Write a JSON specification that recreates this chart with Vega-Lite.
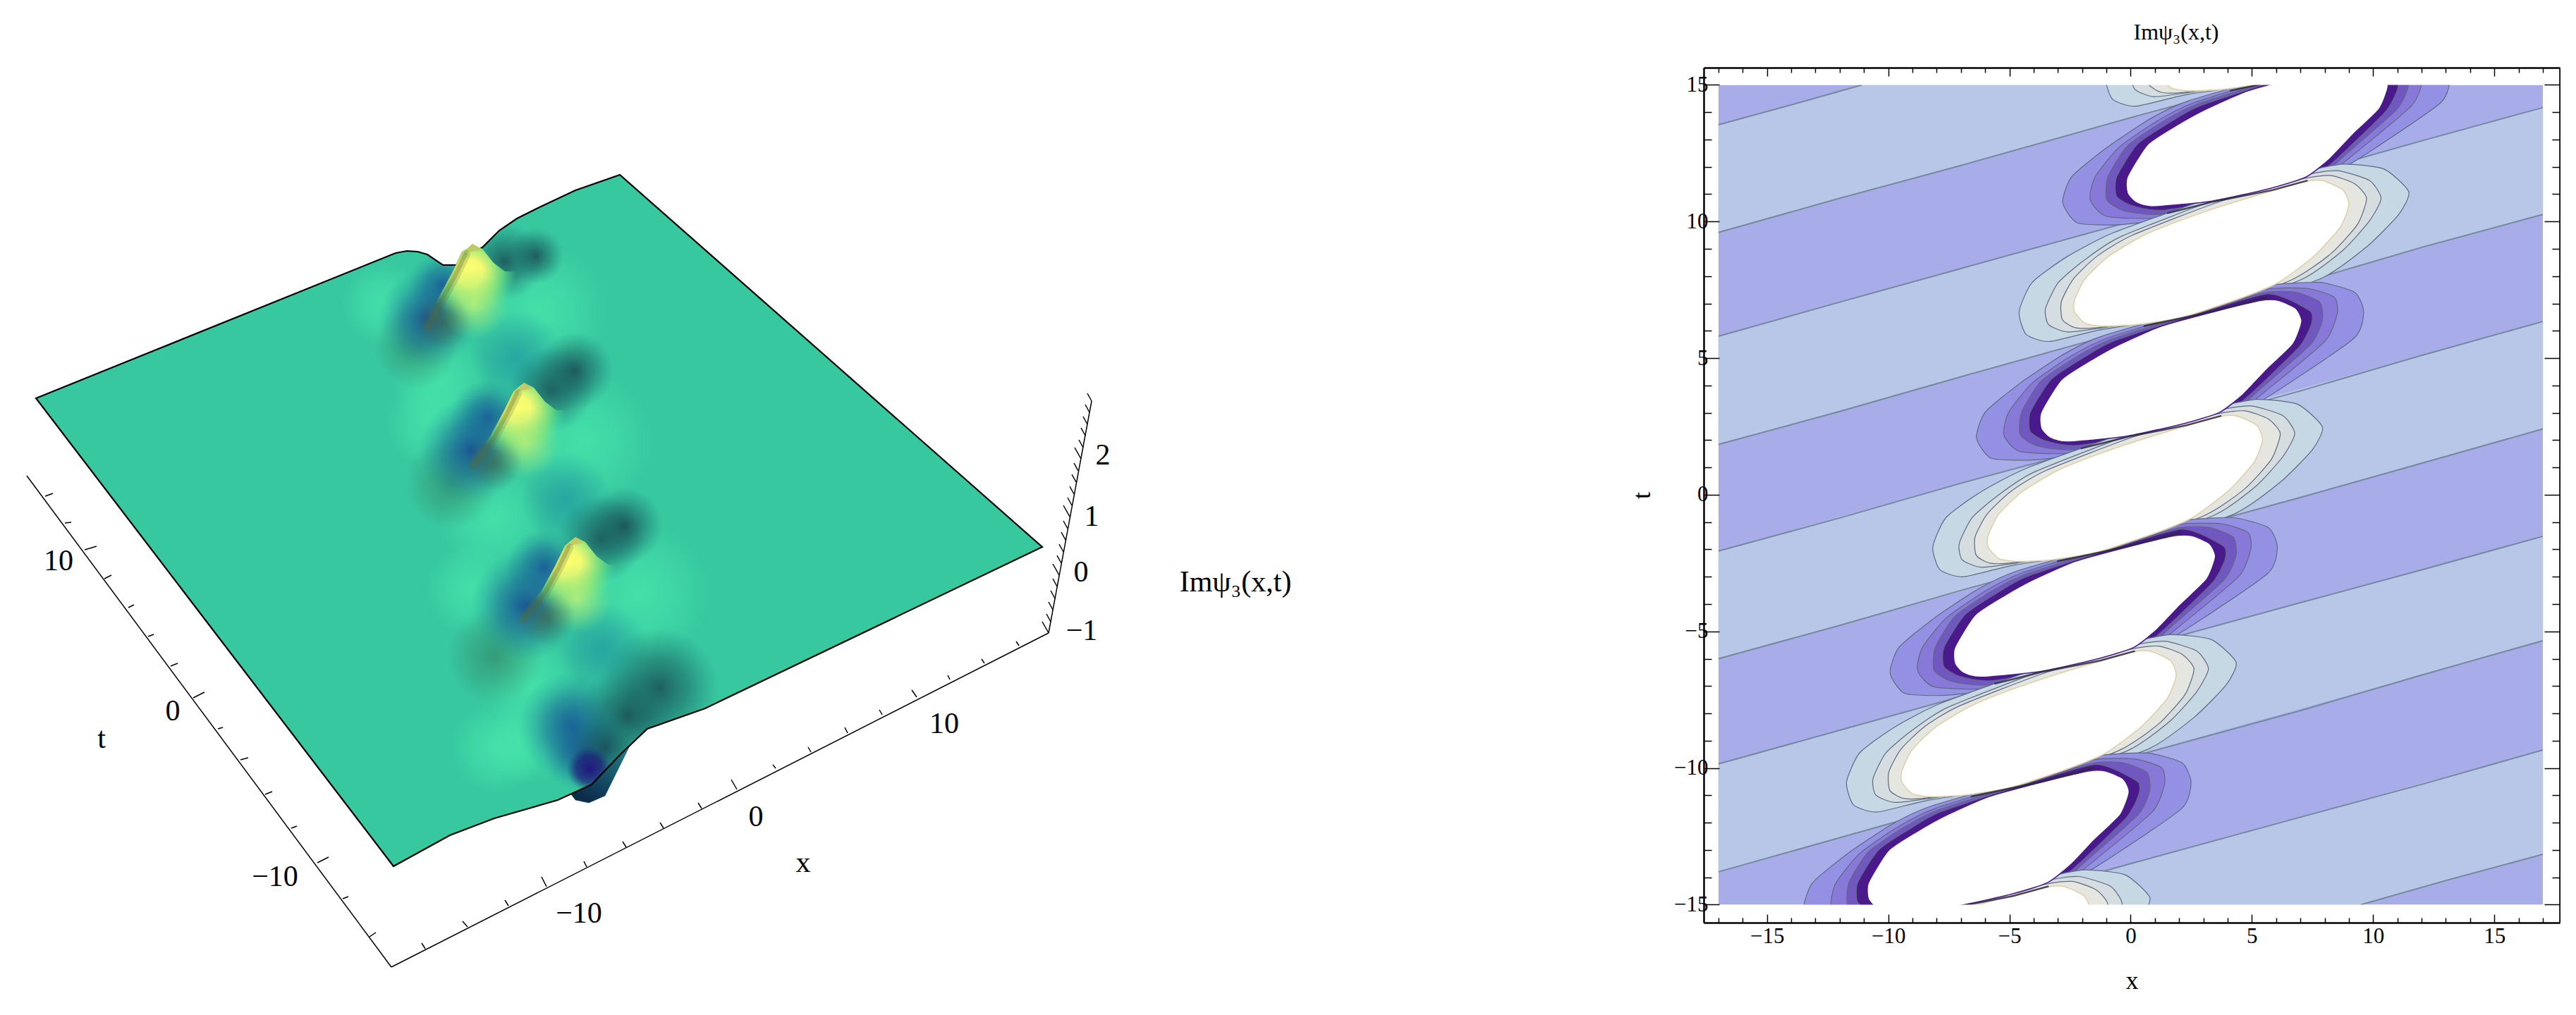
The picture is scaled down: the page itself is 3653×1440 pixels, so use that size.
{"$schema":"https://vega.github.io/schema/vega-lite/v6.json","background":"white","padding":{"left":0,"top":30,"right":0,"bottom":0},"bounds":"flush","spacing":0,"config":{"view":{"stroke":null}},
"datasets":{
"surface":[{"u":51,"v":564},{"u":561,"v":358},{"u":577,"v":355},{"u":592,"v":356},{"u":606,"v":360},{"u":628,"v":375},{"u":647,"v":375},{"u":665,"v":360},{"u":684,"v":350},{"u":708,"v":326},{"u":733,"v":309},{"u":765,"v":293},{"u":816,"v":269},{"u":879,"v":247},{"u":1478,"v":775},{"u":1000,"v":1004},{"u":918,"v":1033},{"u":880,"v":1069},{"u":839,"v":1112},{"u":791,"v":1134},{"u":701,"v":1160},{"u":638,"v":1184},{"u":558,"v":1228}],
"outside":[{"k":1,"u":558,"v":1228},{"k":1,"u":638,"v":1184},{"k":1,"u":701,"v":1160},{"k":1,"u":791,"v":1134},{"k":1,"u":839,"v":1112},{"k":1,"u":880,"v":1069},{"k":1,"u":918,"v":1033},{"k":1,"u":1000,"v":1004},{"k":1,"u":1478,"v":775},{"k":1,"u":1478,"v":1300},{"k":1,"u":558,"v":1300},
{"k":2,"u":440,"v":407},{"k":2,"u":561,"v":358},{"k":2,"u":577,"v":355},{"k":2,"u":592,"v":356},{"k":2,"u":606,"v":360},{"k":2,"u":628,"v":375},{"k":2,"u":647,"v":375},{"k":2,"u":665,"v":360},{"k":2,"u":684,"v":350},{"k":2,"u":708,"v":326},{"k":2,"u":733,"v":309},{"k":2,"u":765,"v":293},{"k":2,"u":816,"v":269},{"k":2,"u":879,"v":247},{"k":2,"u":879,"v":200},{"k":2,"u":440,"v":200}],
"blobs":[
{"b":"glow","u":670,"u2":860,"v":345,"v2":535},{"b":"glow","u":725,"u2":925,"v":525,"v2":725},{"b":"glow","u":805,"u2":1005,"v":740,"v2":940},{"b":"glow","u":555,"u2":695,"v":470,"v2":610},{"b":"glow","u":622,"u2":778,"v":657,"v2":813},{"b":"glow","u":682,"u2":822,"v":900,"v2":1040},{"b":"glow","u":688,"u2":808,"v":990,"v2":1110},{"b":"glow","u":485,"u2":605,"v":370,"v2":490},{"b":"glow","u":548,"u2":672,"v":538,"v2":662},{"b":"glow","u":605,"u2":735,"v":770,"v2":900},{"b":"glow","u":640,"u2":770,"v":995,"v2":1125},
{"b":"teal","u":668,"u2":798,"v":439,"v2":569},{"b":"teal","u":738,"u2":868,"v":641,"v2":771},{"b":"teal","u":790,"u2":920,"v":854,"v2":984},
{"b":"smudge","u":530,"u2":650,"v":430,"v2":550},{"b":"smudge","u":575,"u2":705,"v":620,"v2":750},{"b":"smudge","u":634,"u2":770,"v":862,"v2":998},
{"b":"blue","u":578,"u2":678,"v":355,"v2":455},{"b":"blue","u":536,"u2":676,"v":380,"v2":520},{"b":"blue","u":637,"u2":747,"v":537,"v2":647},{"b":"blue","u":593,"u2":743,"v":563,"v2":713},{"b":"blue","u":717,"u2":827,"v":750,"v2":860},{"b":"blue","u":667,"u2":823,"v":780,"v2":936},{"b":"blue","u":734,"u2":890,"v":952,"v2":1108},{"b":"blue","u":770,"u2":890,"v":1005,"v2":1125},
{"b":"dark","u":661,"u2":771,"v":315,"v2":425},{"b":"dark","u":720,"u2":800,"v":322,"v2":402},{"b":"dark","u":722,"u2":842,"v":492,"v2":612},{"b":"dark","u":760,"u2":870,"v":470,"v2":580},{"b":"dark","u":790,"u2":914,"v":702,"v2":826},{"b":"dark","u":830,"u2":940,"v":690,"v2":800},{"b":"dark","u":850,"u2":1020,"v":890,"v2":1060},{"b":"dark","u":820,"u2":960,"v":945,"v2":1085},{"b":"dark","u":808,"u2":908,"v":1010,"v2":1110},
{"b":"indigo","u":804,"u2":868,"v":1058,"v2":1122},
{"b":"lime","u":622,"u2":722,"v":380,"v2":480},{"b":"lime","u":695,"u2":795,"v":578,"v2":678},{"b":"lime","u":768,"u2":868,"v":798,"v2":898},
{"b":"olive","u":588,"u2":668,"v":415,"v2":495},{"b":"olive","u":660,"u2":740,"v":615,"v2":695},{"b":"olive","u":735,"u2":815,"v":835,"v2":915}],
"lip":[{"u":918,"v":1033},{"u":893,"v":1057},{"u":858,"v":1128},{"u":835,"v":1138},{"u":816,"v":1134},{"u":810,"v":1126},{"u":839,"v":1112},{"u":880,"v":1069}],
"cones":[
{"k":1,"u":670,"v":345},{"k":1,"u":684,"v":352},{"k":1,"u":700,"v":372},{"k":1,"u":716,"v":384},{"k":1,"u":790,"v":385},{"k":1,"u":800,"v":470},{"k":1,"u":760,"v":545},{"k":1,"u":640,"v":545},{"k":1,"u":600,"v":462},{"k":1,"u":622,"v":421},{"k":1,"u":641,"v":386},{"k":1,"u":655,"v":357},
{"k":2,"u":743,"v":542},{"k":2,"u":757,"v":549},{"k":2,"u":773,"v":569},{"k":2,"u":789,"v":581},{"k":2,"u":863,"v":582},{"k":2,"u":873,"v":667},{"k":2,"u":833,"v":742},{"k":2,"u":713,"v":742},{"k":2,"u":665,"v":657},{"k":2,"u":695,"v":618},{"k":2,"u":714,"v":583},{"k":2,"u":728,"v":554},
{"k":3,"u":816,"v":761},{"k":3,"u":830,"v":768},{"k":3,"u":846,"v":788},{"k":3,"u":862,"v":800},{"k":3,"u":936,"v":801},{"k":3,"u":946,"v":886},{"k":3,"u":906,"v":961},{"k":3,"u":786,"v":961},{"k":3,"u":735,"v":876},{"k":3,"u":768,"v":837},{"k":3,"u":787,"v":802},{"k":3,"u":801,"v":773}],
"tips":[{"k":1,"u":670,"v":345},{"k":1,"u":681,"v":353},{"k":1,"u":658,"v":358},{"k":2,"u":743,"v":542},{"k":2,"u":754,"v":550},{"k":2,"u":731,"v":555},{"k":3,"u":816,"v":761},{"k":3,"u":827,"v":769},{"k":3,"u":804,"v":774}],
"flanks":[
{"k":1,"u":660,"v":360},{"k":1,"u":646,"v":389},{"k":1,"u":627,"v":424},{"k":1,"u":606,"v":464},
{"k":2,"u":733,"v":557},{"k":2,"u":719,"v":586},{"k":2,"u":700,"v":621},{"k":2,"u":671,"v":659},
{"k":3,"u":806,"v":776},{"k":3,"u":792,"v":805},{"k":3,"u":773,"v":840},{"k":3,"u":741,"v":878}],
"rules":[
{"u":555,"v":1371,"u2":38,"v2":674},{"u":555,"v":1371,"u2":1487,"v2":897},{"u":1487,"v":897,"u2":1548,"v2":568},
{"u":64,"v":703,"u2":75,"v2":699},{"u":92,"v":741,"u2":101,"v2":740},{"u":120,"v":779,"u2":137,"v2":774},{"u":148,"v":820,"u2":158,"v2":815},{"u":182,"v":861,"u2":190,"v2":857},{"u":210,"v":902,"u2":218,"v2":899},{"u":242,"v":944,"u2":252,"v2":940},{"u":274,"v":989,"u2":290,"v2":981},{"u":309,"v":1033,"u2":316,"v2":1031},{"u":341,"v":1077,"u2":352,"v2":1074},{"u":376,"v":1126,"u2":386,"v2":1122},{"u":413,"v":1174,"u2":421,"v2":1171},{"u":450,"v":1223,"u2":466,"v2":1215},{"u":486,"v":1274,"u2":494,"v2":1271},{"u":524,"v":1328,"u2":533,"v2":1322},
{"u":603,"v":1345,"u2":598,"v2":1337},{"u":663,"v":1314,"u2":656,"v2":1306},{"u":721,"v":1284,"u2":716,"v2":1276},{"u":775,"v":1257,"u2":768,"v2":1243},{"u":832,"v":1229,"u2":828,"v2":1221},{"u":888,"v":1201,"u2":883,"v2":1193},{"u":941,"v":1174,"u2":936,"v2":1166},{"u":995,"v":1146,"u2":990,"v2":1138},{"u":1045,"v":1119,"u2":1037,"v2":1105},{"u":1100,"v":1089,"u2":1096,"v2":1084},{"u":1150,"v":1066,"u2":1146,"v2":1059},{"u":1202,"v":1039,"u2":1198,"v2":1031},{"u":1251,"v":1013,"u2":1247,"v2":1006},{"u":1300,"v":988,"u2":1293,"v2":978},{"u":1347,"v":963,"u2":1344,"v2":957},{"u":1396,"v":940,"u2":1392,"v2":934},{"u":1445,"v":915,"u2":1441,"v2":909},
{"u":1487,"v":897,"u2":1478,"v2":881},{"u":1490,"v":881,"u2":1484,"v2":870},{"u":1493,"v":864,"u2":1487,"v2":853},{"u":1496,"v":848,"u2":1490,"v2":837},{"u":1499,"v":831,"u2":1493,"v2":820},{"u":1502,"v":815,"u2":1493,"v2":799},{"u":1505,"v":798,"u2":1499,"v2":787},{"u":1508,"v":782,"u2":1502,"v2":771},{"u":1511,"v":765,"u2":1505,"v2":754},{"u":1514,"v":749,"u2":1508,"v2":738},{"u":1517,"v":732,"u2":1508,"v2":716},{"u":1520,"v":716,"u2":1514,"v2":705},{"u":1523,"v":700,"u2":1517,"v2":689},{"u":1526,"v":683,"u2":1520,"v2":672},{"u":1529,"v":667,"u2":1523,"v2":656},{"u":1533,"v":650,"u2":1524,"v2":634},{"u":1536,"v":634,"u2":1530,"v2":623},{"u":1539,"v":617,"u2":1533,"v2":606},{"u":1542,"v":601,"u2":1536,"v2":590},{"u":1545,"v":584,"u2":1539,"v2":573},{"u":1548,"v":568,"u2":1542,"v2":557}],
"labels":[{"u":83,"v":795,"s":"10"},{"u":245,"v":1008,"s":"0"},{"u":390,"v":1243,"s":"−10"},{"u":144,"v":1047,"s":"t"},{"u":821,"v":1295,"s":"−10"},{"u":1072,"v":1158,"s":"0"},{"u":1339,"v":1026,"s":"10"},{"u":1139,"v":1223,"s":"x"},{"u":1534,"v":894,"s":"−1"},{"u":1533,"v":811,"s":"0"},{"u":1548,"v":732,"s":"1"},{"u":1564,"v":645,"s":"2"},{"u":1752,"v":825,"s":"Imψ₃(x,t)"}],
"ground":[{"x":-17,"x2":17,"t":-15,"t2":15}],
"masks":[{"x":-17.6,"x2":17.7,"t":15,"t2":15.63},{"x":-17.6,"x2":17.7,"t":-15.66,"t2":-15}],
"stripes":[
{"k":1,"x":-17,"t":13.54},{"k":1,"x":-11.08,"t":15},{"k":1,"x":5,"t":15},{"k":1,"x":-17,"t":9.6},
{"k":2,"x":-17,"t":5.8},{"k":2,"x":17,"t":14.17},{"k":2,"x":17,"t":10.26},{"k":2,"x":-17,"t":1.84},
{"k":3,"x":-17,"t":-2.06},{"k":3,"x":17,"t":6.34},{"k":3,"x":17,"t":2.41},{"k":3,"x":-17,"t":-6},
{"k":4,"x":-17,"t":-9.85},{"k":4,"x":17,"t":-1.52},{"k":4,"x":17,"t":-5.34},{"k":4,"x":-17,"t":-13.8},
{"k":5,"x":-6,"t":-15},{"k":5,"x":17,"t":-9.34},{"k":5,"x":17,"t":-13.16},{"k":5,"x":9.5,"t":-15}],
"edges":[
{"k":1,"x":-17,"t":13.54},{"k":1,"x":-14,"t":14.27},{"k":1,"x":-11.08,"t":15},
{"k":2,"x":-17,"t":9.6},{"k":2,"x":-12,"t":10.85},{"k":2,"x":-7,"t":12.05},{"k":2,"x":0,"t":13.8},{"k":2,"x":5,"t":15},
{"k":3,"x":-17,"t":5.8},{"k":3,"x":-12,"t":7.05},{"k":3,"x":-7,"t":8.28},{"k":3,"x":0,"t":10},{"k":3,"x":7,"t":11.7},{"k":3,"x":12,"t":12.95},{"k":3,"x":17,"t":14.17},
{"k":4,"x":-17,"t":1.84},{"k":4,"x":-12,"t":3.05},{"k":4,"x":-7,"t":4.32},{"k":4,"x":0,"t":6.05},{"k":4,"x":7,"t":7.75},{"k":4,"x":12,"t":9.05},{"k":4,"x":17,"t":10.26},
{"k":5,"x":-17,"t":-2.06},{"k":5,"x":-12,"t":-0.85},{"k":5,"x":-7,"t":0.42},{"k":5,"x":0,"t":2.1},{"k":5,"x":7,"t":3.8},{"k":5,"x":12,"t":5.1},{"k":5,"x":17,"t":6.34},
{"k":6,"x":-17,"t":-6},{"k":6,"x":-12,"t":-4.78},{"k":6,"x":-7,"t":-3.5},{"k":6,"x":0,"t":-1.8},{"k":6,"x":7,"t":-0.1},{"k":6,"x":12,"t":1.15},{"k":6,"x":17,"t":2.41},
{"k":7,"x":-17,"t":-9.85},{"k":7,"x":-12,"t":-8.62},{"k":7,"x":-7,"t":-7.38},{"k":7,"x":0,"t":-5.65},{"k":7,"x":7,"t":-3.95},{"k":7,"x":12,"t":-2.75},{"k":7,"x":17,"t":-1.52},
{"k":8,"x":-17,"t":-13.8},{"k":8,"x":-12,"t":-12.55},{"k":8,"x":-7,"t":-11.3},{"k":8,"x":0,"t":-9.6},{"k":8,"x":7,"t":-7.9},{"k":8,"x":12,"t":-6.6},{"k":8,"x":17,"t":-5.34},
{"k":9,"x":-6,"t":-15},{"k":9,"x":0,"t":-13.5},{"k":9,"x":7,"t":-11.8},{"k":9,"x":12,"t":-10.6},{"k":9,"x":17,"t":-9.34},
{"k":10,"x":9.5,"t":-15},{"k":10,"x":13,"t":-14.12},{"k":10,"x":17,"t":-13.16}],
"necks":[
{"k":1,"x":4.09,"t":14.78},{"k":1,"x":7,"t":15.33},
{"k":2,"x":0.53,"t":6.17},{"k":2,"x":3.44,"t":6.72},{"k":2,"x":5.61,"t":7.23},
{"k":3,"x":-3.03,"t":-2.44},{"k":3,"x":-0.12,"t":-1.89},{"k":3,"x":2.05,"t":-1.38},
{"k":4,"x":-6.59,"t":-11.05},{"k":4,"x":-3.68,"t":-10.5},{"k":4,"x":-1.51,"t":-9.99},
{"k":5,"x":1.5,"t":10.3},{"k":5,"x":3.44,"t":10.73},{"k":5,"x":5.86,"t":11.15},{"k":5,"x":7.3,"t":11.5},
{"k":6,"x":-2.06,"t":1.69},{"k":6,"x":-0.12,"t":2.12},{"k":6,"x":2.3,"t":2.54},{"k":6,"x":3.74,"t":2.89},
{"k":7,"x":-5.62,"t":-6.92},{"k":7,"x":-3.68,"t":-6.49},{"k":7,"x":-1.26,"t":-6.07},{"k":7,"x":0.18,"t":-5.72},
{"k":8,"x":-9.18,"t":-15.53},{"k":8,"x":-7.24,"t":-15.1},{"k":8,"x":-4.82,"t":-14.68},{"k":8,"x":-3.38,"t":-14.33}],
"lobes":[
{"k":0,"l":"b1","x":2.4,"t":14.66},{"k":0,"l":"b1","x":0.22,"t":14.22},{"k":0,"l":"b1","x":-0.75,"t":14.48},{"k":0,"l":"b1","x":-1.04,"t":15.31},{"k":0,"l":"b1","x":-0.5,"t":16.38},{"k":0,"l":"b1","x":7,"t":16.38},{"k":0,"l":"b1","x":7,"t":15.31},
{"k":0,"l":"b2","x":2.4,"t":14.72},{"k":0,"l":"b2","x":0.95,"t":14.57},{"k":0,"l":"b2","x":0.17,"t":14.84},{"k":0,"l":"b2","x":0.05,"t":15.43},{"k":0,"l":"b2","x":0.58,"t":16.38},{"k":0,"l":"b2","x":7,"t":16.38},{"k":0,"l":"b2","x":7,"t":15.37},
{"k":0,"l":"b3","x":2.4,"t":14.75},{"k":0,"l":"b3","x":1.31,"t":14.72},{"k":0,"l":"b3","x":0.75,"t":15.01},{"k":0,"l":"b3","x":0.7,"t":15.67},{"k":0,"l":"b3","x":1.19,"t":16.5},{"k":0,"l":"b3","x":7,"t":16.5},{"k":0,"l":"b3","x":7,"t":15.43},
{"k":1,"l":"p1","x":-0.5,"t":9.88},{"k":1,"l":"p1","x":-2.2,"t":9.95},{"k":1,"l":"p1","x":-2.8,"t":10.69},{"k":1,"l":"p1","x":-2.44,"t":11.63},{"k":1,"l":"p1","x":-0.99,"t":12.7},{"k":1,"l":"p1","x":0.83,"t":13.77},{"k":1,"l":"p1","x":2.4,"t":14.42},{"k":1,"l":"p1","x":7,"t":15.61},{"k":1,"l":"p1","x":9.17,"t":16.26},{"k":1,"l":"p1","x":11.35,"t":16.38},{"k":1,"l":"p1","x":12.8,"t":16.02},{"k":1,"l":"p1","x":13.17,"t":15.31},{"k":1,"l":"p1","x":12.8,"t":14.36},{"k":1,"l":"p1","x":9.9,"t":12.58},{"k":1,"l":"p1","x":8.21,"t":11.69},{"k":1,"l":"p1","x":5.79,"t":10.92},{"k":1,"l":"p1","x":1.43,"t":10.09},
{"k":1,"l":"p2","x":-0.99,"t":10.19},{"k":1,"l":"p2","x":-1.67,"t":10.8},{"k":1,"l":"p2","x":-1.47,"t":11.63},{"k":1,"l":"p2","x":-0.5,"t":12.7},{"k":1,"l":"p2","x":1.07,"t":13.67},{"k":1,"l":"p2","x":2.64,"t":14.36},{"k":1,"l":"p2","x":7,"t":15.55},{"k":1,"l":"p2","x":9.17,"t":16.14},{"k":1,"l":"p2","x":10.87,"t":16.16},{"k":1,"l":"p2","x":11.96,"t":15.84},{"k":1,"l":"p2","x":12.08,"t":15.25},{"k":1,"l":"p2","x":11.59,"t":14.24},{"k":1,"l":"p2","x":9.29,"t":12.52},{"k":1,"l":"p2","x":7.96,"t":11.63},{"k":1,"l":"p2","x":5.79,"t":10.98},{"k":1,"l":"p2","x":1.43,"t":10.15},
{"k":1,"l":"p3","x":-0.26,"t":10.39},{"k":1,"l":"p3","x":-0.99,"t":10.8},{"k":1,"l":"p3","x":-0.94,"t":11.63},{"k":1,"l":"p3","x":-0.14,"t":12.76},{"k":1,"l":"p3","x":1.31,"t":13.65},{"k":1,"l":"p3","x":2.76,"t":14.3},{"k":1,"l":"p3","x":7,"t":15.49},{"k":1,"l":"p3","x":9.17,"t":16.02},{"k":1,"l":"p3","x":10.38,"t":16.02},{"k":1,"l":"p3","x":11.35,"t":15.67},{"k":1,"l":"p3","x":11.47,"t":15.01},{"k":1,"l":"p3","x":10.99,"t":14.12},{"k":1,"l":"p3","x":8.81,"t":12.4},{"k":1,"l":"p3","x":7.72,"t":11.57},{"k":1,"l":"p3","x":5.79,"t":11.04},{"k":1,"l":"p3","x":1.43,"t":10.27},
{"k":1,"l":"p4","x":0.1,"t":10.57},{"k":1,"l":"p4","x":-0.58,"t":10.92},{"k":1,"l":"p4","x":-0.58,"t":11.63},{"k":1,"l":"p4","x":0.27,"t":12.82},{"k":1,"l":"p4","x":1.55,"t":13.59},{"k":1,"l":"p4","x":2.88,"t":14.24},{"k":1,"l":"p4","x":7,"t":15.43},{"k":1,"l":"p4","x":9.17,"t":15.96},{"k":1,"l":"p4","x":10.02,"t":15.78},{"k":1,"l":"p4","x":10.99,"t":15.31},{"k":1,"l":"p4","x":11.01,"t":14.84},{"k":1,"l":"p4","x":10.5,"t":14.01},{"k":1,"l":"p4","x":8.5,"t":12.29},{"k":1,"l":"p4","x":7.48,"t":11.57},{"k":1,"l":"p4","x":5.79,"t":11.1},{"k":1,"l":"p4","x":1.43,"t":10.42},
{"k":2,"l":"b1","x":-1.16,"t":6.05},{"k":2,"l":"b1","x":-3.34,"t":5.61},{"k":2,"l":"b1","x":-4.31,"t":5.87},{"k":2,"l":"b1","x":-4.6,"t":6.7},{"k":2,"l":"b1","x":-4.06,"t":7.77},{"k":2,"l":"b1","x":-2.61,"t":8.72},{"k":2,"l":"b1","x":-0.68,"t":9.6},{"k":2,"l":"b1","x":3.68,"t":10.97},{"k":2,"l":"b1","x":7.07,"t":11.8},{"k":2,"l":"b1","x":8.76,"t":12.1},{"k":2,"l":"b1","x":10.45,"t":11.92},{"k":2,"l":"b1","x":11.47,"t":11.09},{"k":2,"l":"b1","x":11.06,"t":10.26},{"k":2,"l":"b1","x":9.73,"t":9.07},{"k":2,"l":"b1","x":7.79,"t":7.89},{"k":2,"l":"b1","x":3.44,"t":6.7},
{"k":2,"l":"b2","x":-1.16,"t":6.11},{"k":2,"l":"b2","x":-2.61,"t":5.96},{"k":2,"l":"b2","x":-3.39,"t":6.23},{"k":2,"l":"b2","x":-3.51,"t":6.82},{"k":2,"l":"b2","x":-2.98,"t":7.77},{"k":2,"l":"b2","x":-1.89,"t":8.6},{"k":2,"l":"b2","x":-0.44,"t":9.43},{"k":2,"l":"b2","x":3.68,"t":10.85},{"k":2,"l":"b2","x":7.07,"t":11.68},{"k":2,"l":"b2","x":8.52,"t":11.86},{"k":2,"l":"b2","x":9.85,"t":11.5},{"k":2,"l":"b2","x":10.33,"t":10.85},{"k":2,"l":"b2","x":9.85,"t":10.02},{"k":2,"l":"b2","x":8.76,"t":8.95},{"k":2,"l":"b2","x":7.07,"t":7.89},{"k":2,"l":"b2","x":3.44,"t":6.76},
{"k":2,"l":"b3","x":-1.16,"t":6.14},{"k":2,"l":"b3","x":-2.25,"t":6.11},{"k":2,"l":"b3","x":-2.81,"t":6.4},{"k":2,"l":"b3","x":-2.86,"t":7.06},{"k":2,"l":"b3","x":-2.37,"t":7.89},{"k":2,"l":"b3","x":-1.4,"t":8.72},{"k":2,"l":"b3","x":0.05,"t":9.49},{"k":2,"l":"b3","x":3.68,"t":10.73},{"k":2,"l":"b3","x":7.07,"t":11.56},{"k":2,"l":"b3","x":8.27,"t":11.68},{"k":2,"l":"b3","x":9.24,"t":11.38},{"k":2,"l":"b3","x":9.73,"t":10.85},{"k":2,"l":"b3","x":9.36,"t":9.9},{"k":2,"l":"b3","x":8.27,"t":8.83},{"k":2,"l":"b3","x":6.7,"t":7.89},{"k":2,"l":"b3","x":3.44,"t":6.82},
{"k":3,"l":"p1","x":-4.06,"t":1.27},{"k":3,"l":"p1","x":-5.76,"t":1.34},{"k":3,"l":"p1","x":-6.36,"t":2.08},{"k":3,"l":"p1","x":-6,"t":3.02},{"k":3,"l":"p1","x":-4.55,"t":4.09},{"k":3,"l":"p1","x":-2.73,"t":5.16},{"k":3,"l":"p1","x":-1.16,"t":5.81},{"k":3,"l":"p1","x":3.44,"t":7},{"k":3,"l":"p1","x":5.61,"t":7.65},{"k":3,"l":"p1","x":7.79,"t":7.77},{"k":3,"l":"p1","x":9.24,"t":7.41},{"k":3,"l":"p1","x":9.61,"t":6.7},{"k":3,"l":"p1","x":9.24,"t":5.75},{"k":3,"l":"p1","x":6.34,"t":3.97},{"k":3,"l":"p1","x":4.65,"t":3.08},{"k":3,"l":"p1","x":2.23,"t":2.31},{"k":3,"l":"p1","x":-2.13,"t":1.48},
{"k":3,"l":"p2","x":-4.55,"t":1.58},{"k":3,"l":"p2","x":-5.23,"t":2.19},{"k":3,"l":"p2","x":-5.03,"t":3.02},{"k":3,"l":"p2","x":-4.06,"t":4.09},{"k":3,"l":"p2","x":-2.49,"t":5.06},{"k":3,"l":"p2","x":-0.92,"t":5.75},{"k":3,"l":"p2","x":3.44,"t":6.94},{"k":3,"l":"p2","x":5.61,"t":7.53},{"k":3,"l":"p2","x":7.31,"t":7.55},{"k":3,"l":"p2","x":8.4,"t":7.23},{"k":3,"l":"p2","x":8.52,"t":6.64},{"k":3,"l":"p2","x":8.03,"t":5.63},{"k":3,"l":"p2","x":5.73,"t":3.91},{"k":3,"l":"p2","x":4.4,"t":3.02},{"k":3,"l":"p2","x":2.23,"t":2.37},{"k":3,"l":"p2","x":-2.13,"t":1.54},
{"k":3,"l":"p3","x":-3.82,"t":1.78},{"k":3,"l":"p3","x":-4.55,"t":2.19},{"k":3,"l":"p3","x":-4.5,"t":3.02},{"k":3,"l":"p3","x":-3.7,"t":4.15},{"k":3,"l":"p3","x":-2.25,"t":5.04},{"k":3,"l":"p3","x":-0.8,"t":5.69},{"k":3,"l":"p3","x":3.44,"t":6.88},{"k":3,"l":"p3","x":5.61,"t":7.41},{"k":3,"l":"p3","x":6.82,"t":7.41},{"k":3,"l":"p3","x":7.79,"t":7.06},{"k":3,"l":"p3","x":7.91,"t":6.4},{"k":3,"l":"p3","x":7.43,"t":5.51},{"k":3,"l":"p3","x":5.25,"t":3.79},{"k":3,"l":"p3","x":4.16,"t":2.96},{"k":3,"l":"p3","x":2.23,"t":2.43},{"k":3,"l":"p3","x":-2.13,"t":1.66},
{"k":3,"l":"p4","x":-3.46,"t":1.96},{"k":3,"l":"p4","x":-4.14,"t":2.31},{"k":3,"l":"p4","x":-4.14,"t":3.02},{"k":3,"l":"p4","x":-3.29,"t":4.21},{"k":3,"l":"p4","x":-2.01,"t":4.98},{"k":3,"l":"p4","x":-0.68,"t":5.63},{"k":3,"l":"p4","x":3.44,"t":6.82},{"k":3,"l":"p4","x":5.61,"t":7.35},{"k":3,"l":"p4","x":6.46,"t":7.17},{"k":3,"l":"p4","x":7.43,"t":6.7},{"k":3,"l":"p4","x":7.45,"t":6.23},{"k":3,"l":"p4","x":6.94,"t":5.4},{"k":3,"l":"p4","x":4.94,"t":3.68},{"k":3,"l":"p4","x":3.92,"t":2.96},{"k":3,"l":"p4","x":2.23,"t":2.49},{"k":3,"l":"p4","x":-2.13,"t":1.81},
{"k":4,"l":"b1","x":-4.72,"t":-2.56},{"k":4,"l":"b1","x":-6.9,"t":-3},{"k":4,"l":"b1","x":-7.87,"t":-2.74},{"k":4,"l":"b1","x":-8.16,"t":-1.91},{"k":4,"l":"b1","x":-7.62,"t":-0.84},{"k":4,"l":"b1","x":-6.17,"t":0.11},{"k":4,"l":"b1","x":-4.24,"t":0.99},{"k":4,"l":"b1","x":0.12,"t":2.36},{"k":4,"l":"b1","x":3.51,"t":3.19},{"k":4,"l":"b1","x":5.2,"t":3.49},{"k":4,"l":"b1","x":6.89,"t":3.31},{"k":4,"l":"b1","x":7.91,"t":2.48},{"k":4,"l":"b1","x":7.5,"t":1.65},{"k":4,"l":"b1","x":6.17,"t":0.46},{"k":4,"l":"b1","x":4.23,"t":-0.72},{"k":4,"l":"b1","x":-0.12,"t":-1.91},
{"k":4,"l":"b2","x":-4.72,"t":-2.5},{"k":4,"l":"b2","x":-6.17,"t":-2.65},{"k":4,"l":"b2","x":-6.95,"t":-2.38},{"k":4,"l":"b2","x":-7.07,"t":-1.79},{"k":4,"l":"b2","x":-6.54,"t":-0.84},{"k":4,"l":"b2","x":-5.45,"t":-0.01},{"k":4,"l":"b2","x":-4,"t":0.82},{"k":4,"l":"b2","x":0.12,"t":2.24},{"k":4,"l":"b2","x":3.51,"t":3.07},{"k":4,"l":"b2","x":4.96,"t":3.25},{"k":4,"l":"b2","x":6.29,"t":2.89},{"k":4,"l":"b2","x":6.77,"t":2.24},{"k":4,"l":"b2","x":6.29,"t":1.41},{"k":4,"l":"b2","x":5.2,"t":0.34},{"k":4,"l":"b2","x":3.51,"t":-0.72},{"k":4,"l":"b2","x":-0.12,"t":-1.85},
{"k":4,"l":"b3","x":-4.72,"t":-2.47},{"k":4,"l":"b3","x":-5.81,"t":-2.5},{"k":4,"l":"b3","x":-6.37,"t":-2.21},{"k":4,"l":"b3","x":-6.42,"t":-1.55},{"k":4,"l":"b3","x":-5.93,"t":-0.72},{"k":4,"l":"b3","x":-4.96,"t":0.11},{"k":4,"l":"b3","x":-3.51,"t":0.88},{"k":4,"l":"b3","x":0.12,"t":2.12},{"k":4,"l":"b3","x":3.51,"t":2.95},{"k":4,"l":"b3","x":4.71,"t":3.07},{"k":4,"l":"b3","x":5.68,"t":2.77},{"k":4,"l":"b3","x":6.17,"t":2.24},{"k":4,"l":"b3","x":5.8,"t":1.29},{"k":4,"l":"b3","x":4.71,"t":0.22},{"k":4,"l":"b3","x":3.14,"t":-0.72},{"k":4,"l":"b3","x":-0.12,"t":-1.79},
{"k":5,"l":"p1","x":-7.62,"t":-7.34},{"k":5,"l":"p1","x":-9.32,"t":-7.27},{"k":5,"l":"p1","x":-9.92,"t":-6.53},{"k":5,"l":"p1","x":-9.56,"t":-5.59},{"k":5,"l":"p1","x":-8.11,"t":-4.52},{"k":5,"l":"p1","x":-6.29,"t":-3.45},{"k":5,"l":"p1","x":-4.72,"t":-2.8},{"k":5,"l":"p1","x":-0.12,"t":-1.61},{"k":5,"l":"p1","x":2.05,"t":-0.96},{"k":5,"l":"p1","x":4.23,"t":-0.84},{"k":5,"l":"p1","x":5.68,"t":-1.2},{"k":5,"l":"p1","x":6.05,"t":-1.91},{"k":5,"l":"p1","x":5.68,"t":-2.86},{"k":5,"l":"p1","x":2.78,"t":-4.64},{"k":5,"l":"p1","x":1.09,"t":-5.53},{"k":5,"l":"p1","x":-1.33,"t":-6.3},{"k":5,"l":"p1","x":-5.69,"t":-7.13},
{"k":5,"l":"p2","x":-8.11,"t":-7.03},{"k":5,"l":"p2","x":-8.79,"t":-6.42},{"k":5,"l":"p2","x":-8.59,"t":-5.59},{"k":5,"l":"p2","x":-7.62,"t":-4.52},{"k":5,"l":"p2","x":-6.05,"t":-3.55},{"k":5,"l":"p2","x":-4.48,"t":-2.86},{"k":5,"l":"p2","x":-0.12,"t":-1.67},{"k":5,"l":"p2","x":2.05,"t":-1.08},{"k":5,"l":"p2","x":3.75,"t":-1.06},{"k":5,"l":"p2","x":4.84,"t":-1.38},{"k":5,"l":"p2","x":4.96,"t":-1.97},{"k":5,"l":"p2","x":4.47,"t":-2.98},{"k":5,"l":"p2","x":2.17,"t":-4.7},{"k":5,"l":"p2","x":0.84,"t":-5.59},{"k":5,"l":"p2","x":-1.33,"t":-6.24},{"k":5,"l":"p2","x":-5.69,"t":-7.07},
{"k":5,"l":"p3","x":-7.38,"t":-6.83},{"k":5,"l":"p3","x":-8.11,"t":-6.42},{"k":5,"l":"p3","x":-8.06,"t":-5.59},{"k":5,"l":"p3","x":-7.26,"t":-4.46},{"k":5,"l":"p3","x":-5.81,"t":-3.57},{"k":5,"l":"p3","x":-4.36,"t":-2.92},{"k":5,"l":"p3","x":-0.12,"t":-1.73},{"k":5,"l":"p3","x":2.05,"t":-1.2},{"k":5,"l":"p3","x":3.26,"t":-1.2},{"k":5,"l":"p3","x":4.23,"t":-1.55},{"k":5,"l":"p3","x":4.35,"t":-2.21},{"k":5,"l":"p3","x":3.87,"t":-3.1},{"k":5,"l":"p3","x":1.69,"t":-4.82},{"k":5,"l":"p3","x":0.6,"t":-5.65},{"k":5,"l":"p3","x":-1.33,"t":-6.18},{"k":5,"l":"p3","x":-5.69,"t":-6.95},
{"k":5,"l":"p4","x":-7.02,"t":-6.65},{"k":5,"l":"p4","x":-7.7,"t":-6.3},{"k":5,"l":"p4","x":-7.7,"t":-5.59},{"k":5,"l":"p4","x":-6.85,"t":-4.4},{"k":5,"l":"p4","x":-5.57,"t":-3.63},{"k":5,"l":"p4","x":-4.24,"t":-2.98},{"k":5,"l":"p4","x":-0.12,"t":-1.79},{"k":5,"l":"p4","x":2.05,"t":-1.26},{"k":5,"l":"p4","x":2.9,"t":-1.44},{"k":5,"l":"p4","x":3.87,"t":-1.91},{"k":5,"l":"p4","x":3.89,"t":-2.38},{"k":5,"l":"p4","x":3.38,"t":-3.21},{"k":5,"l":"p4","x":1.38,"t":-4.93},{"k":5,"l":"p4","x":0.36,"t":-5.65},{"k":5,"l":"p4","x":-1.33,"t":-6.12},{"k":5,"l":"p4","x":-5.69,"t":-6.8},
{"k":6,"l":"b1","x":-8.28,"t":-11.17},{"k":6,"l":"b1","x":-10.46,"t":-11.61},{"k":6,"l":"b1","x":-11.43,"t":-11.35},{"k":6,"l":"b1","x":-11.72,"t":-10.52},{"k":6,"l":"b1","x":-11.18,"t":-9.45},{"k":6,"l":"b1","x":-9.73,"t":-8.5},{"k":6,"l":"b1","x":-7.8,"t":-7.62},{"k":6,"l":"b1","x":-3.44,"t":-6.25},{"k":6,"l":"b1","x":-0.05,"t":-5.42},{"k":6,"l":"b1","x":1.64,"t":-5.12},{"k":6,"l":"b1","x":3.33,"t":-5.3},{"k":6,"l":"b1","x":4.35,"t":-6.13},{"k":6,"l":"b1","x":3.94,"t":-6.96},{"k":6,"l":"b1","x":2.61,"t":-8.15},{"k":6,"l":"b1","x":0.67,"t":-9.33},{"k":6,"l":"b1","x":-3.68,"t":-10.52},
{"k":6,"l":"b2","x":-8.28,"t":-11.11},{"k":6,"l":"b2","x":-9.73,"t":-11.26},{"k":6,"l":"b2","x":-10.51,"t":-10.99},{"k":6,"l":"b2","x":-10.63,"t":-10.4},{"k":6,"l":"b2","x":-10.1,"t":-9.45},{"k":6,"l":"b2","x":-9.01,"t":-8.62},{"k":6,"l":"b2","x":-7.56,"t":-7.79},{"k":6,"l":"b2","x":-3.44,"t":-6.37},{"k":6,"l":"b2","x":-0.05,"t":-5.54},{"k":6,"l":"b2","x":1.4,"t":-5.36},{"k":6,"l":"b2","x":2.73,"t":-5.72},{"k":6,"l":"b2","x":3.21,"t":-6.37},{"k":6,"l":"b2","x":2.73,"t":-7.2},{"k":6,"l":"b2","x":1.64,"t":-8.27},{"k":6,"l":"b2","x":-0.05,"t":-9.33},{"k":6,"l":"b2","x":-3.68,"t":-10.46},
{"k":6,"l":"b3","x":-8.28,"t":-11.08},{"k":6,"l":"b3","x":-9.37,"t":-11.11},{"k":6,"l":"b3","x":-9.93,"t":-10.82},{"k":6,"l":"b3","x":-9.98,"t":-10.16},{"k":6,"l":"b3","x":-9.49,"t":-9.33},{"k":6,"l":"b3","x":-8.52,"t":-8.5},{"k":6,"l":"b3","x":-7.07,"t":-7.73},{"k":6,"l":"b3","x":-3.44,"t":-6.49},{"k":6,"l":"b3","x":-0.05,"t":-5.66},{"k":6,"l":"b3","x":1.15,"t":-5.54},{"k":6,"l":"b3","x":2.12,"t":-5.84},{"k":6,"l":"b3","x":2.61,"t":-6.37},{"k":6,"l":"b3","x":2.24,"t":-7.32},{"k":6,"l":"b3","x":1.15,"t":-8.39},{"k":6,"l":"b3","x":-0.42,"t":-9.33},{"k":6,"l":"b3","x":-3.68,"t":-10.4},
{"k":7,"l":"p1","x":-11.18,"t":-15.95},{"k":7,"l":"p1","x":-12.88,"t":-15.88},{"k":7,"l":"p1","x":-13.48,"t":-15.14},{"k":7,"l":"p1","x":-13.12,"t":-14.2},{"k":7,"l":"p1","x":-11.67,"t":-13.13},{"k":7,"l":"p1","x":-9.85,"t":-12.06},{"k":7,"l":"p1","x":-8.28,"t":-11.41},{"k":7,"l":"p1","x":-3.68,"t":-10.22},{"k":7,"l":"p1","x":-1.51,"t":-9.57},{"k":7,"l":"p1","x":0.67,"t":-9.45},{"k":7,"l":"p1","x":2.12,"t":-9.81},{"k":7,"l":"p1","x":2.49,"t":-10.52},{"k":7,"l":"p1","x":2.12,"t":-11.47},{"k":7,"l":"p1","x":-0.78,"t":-13.25},{"k":7,"l":"p1","x":-2.47,"t":-14.14},{"k":7,"l":"p1","x":-4.89,"t":-14.91},{"k":7,"l":"p1","x":-9.25,"t":-15.74},
{"k":7,"l":"p2","x":-11.67,"t":-15.64},{"k":7,"l":"p2","x":-12.35,"t":-15.03},{"k":7,"l":"p2","x":-12.15,"t":-14.2},{"k":7,"l":"p2","x":-11.18,"t":-13.13},{"k":7,"l":"p2","x":-9.61,"t":-12.16},{"k":7,"l":"p2","x":-8.04,"t":-11.47},{"k":7,"l":"p2","x":-3.68,"t":-10.28},{"k":7,"l":"p2","x":-1.51,"t":-9.69},{"k":7,"l":"p2","x":0.19,"t":-9.67},{"k":7,"l":"p2","x":1.28,"t":-9.99},{"k":7,"l":"p2","x":1.4,"t":-10.58},{"k":7,"l":"p2","x":0.91,"t":-11.59},{"k":7,"l":"p2","x":-1.39,"t":-13.31},{"k":7,"l":"p2","x":-2.72,"t":-14.2},{"k":7,"l":"p2","x":-4.89,"t":-14.85},{"k":7,"l":"p2","x":-9.25,"t":-15.68},
{"k":7,"l":"p3","x":-10.94,"t":-15.44},{"k":7,"l":"p3","x":-11.67,"t":-15.03},{"k":7,"l":"p3","x":-11.62,"t":-14.2},{"k":7,"l":"p3","x":-10.82,"t":-13.07},{"k":7,"l":"p3","x":-9.37,"t":-12.18},{"k":7,"l":"p3","x":-7.92,"t":-11.53},{"k":7,"l":"p3","x":-3.68,"t":-10.34},{"k":7,"l":"p3","x":-1.51,"t":-9.81},{"k":7,"l":"p3","x":-0.3,"t":-9.81},{"k":7,"l":"p3","x":0.67,"t":-10.16},{"k":7,"l":"p3","x":0.79,"t":-10.82},{"k":7,"l":"p3","x":0.31,"t":-11.71},{"k":7,"l":"p3","x":-1.87,"t":-13.43},{"k":7,"l":"p3","x":-2.96,"t":-14.26},{"k":7,"l":"p3","x":-4.89,"t":-14.79},{"k":7,"l":"p3","x":-9.25,"t":-15.56},
{"k":7,"l":"p4","x":-10.58,"t":-15.26},{"k":7,"l":"p4","x":-11.26,"t":-14.91},{"k":7,"l":"p4","x":-11.26,"t":-14.2},{"k":7,"l":"p4","x":-10.41,"t":-13.01},{"k":7,"l":"p4","x":-9.13,"t":-12.24},{"k":7,"l":"p4","x":-7.8,"t":-11.59},{"k":7,"l":"p4","x":-3.68,"t":-10.4},{"k":7,"l":"p4","x":-1.51,"t":-9.87},{"k":7,"l":"p4","x":-0.66,"t":-10.05},{"k":7,"l":"p4","x":0.31,"t":-10.52},{"k":7,"l":"p4","x":0.33,"t":-10.99},{"k":7,"l":"p4","x":-0.18,"t":-11.82},{"k":7,"l":"p4","x":-2.18,"t":-13.54},{"k":7,"l":"p4","x":-3.2,"t":-14.26},{"k":7,"l":"p4","x":-4.89,"t":-14.73},{"k":7,"l":"p4","x":-9.25,"t":-15.41},
{"k":8,"l":"b1","x":-7,"t":-14.86},{"k":8,"l":"b1","x":-3.61,"t":-14.03},{"k":8,"l":"b1","x":-1.92,"t":-13.73},{"k":8,"l":"b1","x":-0.23,"t":-13.91},{"k":8,"l":"b1","x":0.79,"t":-14.74},{"k":8,"l":"b1","x":0.38,"t":-15.57},{"k":8,"l":"b1","x":-0.95,"t":-16.76},{"k":8,"l":"b1","x":-7,"t":-17},
{"k":8,"l":"b2","x":-7,"t":-14.98},{"k":8,"l":"b2","x":-3.61,"t":-14.15},{"k":8,"l":"b2","x":-2.16,"t":-13.97},{"k":8,"l":"b2","x":-0.83,"t":-14.33},{"k":8,"l":"b2","x":-0.35,"t":-14.98},{"k":8,"l":"b2","x":-0.83,"t":-15.81},{"k":8,"l":"b2","x":-1.92,"t":-16.88},{"k":8,"l":"b2","x":-7,"t":-17},
{"k":8,"l":"b3","x":-7,"t":-15.1},{"k":8,"l":"b3","x":-3.61,"t":-14.27},{"k":8,"l":"b3","x":-2.41,"t":-14.15},{"k":8,"l":"b3","x":-1.44,"t":-14.45},{"k":8,"l":"b3","x":-0.95,"t":-14.98},{"k":8,"l":"b3","x":-1.32,"t":-15.93},{"k":8,"l":"b3","x":-2.41,"t":-17},{"k":8,"l":"b3","x":-7,"t":-17}],
"holes":[
{"k":0,"h":"b","x":2.4,"t":14.78},{"k":0,"h":"b","x":1.67,"t":14.89},{"k":0,"h":"b","x":1.24,"t":15.31},{"k":0,"h":"b","x":1.24,"t":15.72},{"k":0,"h":"b","x":1.67,"t":16.5},{"k":0,"h":"b","x":8,"t":16.5},{"k":0,"h":"b","x":8.21,"t":15.84},{"k":0,"h":"b","x":5.79,"t":15.13},{"k":0,"h":"b","x":3.85,"t":14.84},
{"k":2,"h":"b","x":-1.16,"t":6.17},{"k":2,"h":"b","x":-1.89,"t":6.28},{"k":2,"h":"b","x":-2.32,"t":6.7},{"k":2,"h":"b","x":-2.32,"t":7.11},{"k":2,"h":"b","x":-1.89,"t":7.89},{"k":2,"h":"b","x":-0.92,"t":8.72},{"k":2,"h":"b","x":0.53,"t":9.49},{"k":2,"h":"b","x":1.98,"t":10.02},{"k":2,"h":"b","x":3.92,"t":10.61},{"k":2,"h":"b","x":7.07,"t":11.44},{"k":2,"h":"b","x":7.91,"t":11.5},{"k":2,"h":"b","x":8.76,"t":11.15},{"k":2,"h":"b","x":9,"t":10.61},{"k":2,"h":"b","x":8.64,"t":9.78},{"k":2,"h":"b","x":7.55,"t":8.72},{"k":2,"h":"b","x":6.1,"t":7.77},{"k":2,"h":"b","x":4.65,"t":7.23},{"k":2,"h":"b","x":2.23,"t":6.52},{"k":2,"h":"b","x":0.29,"t":6.23},
{"k":4,"h":"b","x":-4.72,"t":-2.44},{"k":4,"h":"b","x":-5.45,"t":-2.33},{"k":4,"h":"b","x":-5.88,"t":-1.91},{"k":4,"h":"b","x":-5.88,"t":-1.5},{"k":4,"h":"b","x":-5.45,"t":-0.72},{"k":4,"h":"b","x":-4.48,"t":0.11},{"k":4,"h":"b","x":-3.03,"t":0.88},{"k":4,"h":"b","x":-1.58,"t":1.41},{"k":4,"h":"b","x":0.36,"t":2},{"k":4,"h":"b","x":3.51,"t":2.83},{"k":4,"h":"b","x":4.35,"t":2.89},{"k":4,"h":"b","x":5.2,"t":2.54},{"k":4,"h":"b","x":5.44,"t":2},{"k":4,"h":"b","x":5.08,"t":1.17},{"k":4,"h":"b","x":3.99,"t":0.11},{"k":4,"h":"b","x":2.54,"t":-0.84},{"k":4,"h":"b","x":1.09,"t":-1.38},{"k":4,"h":"b","x":-1.33,"t":-2.09},{"k":4,"h":"b","x":-3.27,"t":-2.38},
{"k":6,"h":"b","x":-8.28,"t":-11.05},{"k":6,"h":"b","x":-9.01,"t":-10.94},{"k":6,"h":"b","x":-9.44,"t":-10.52},{"k":6,"h":"b","x":-9.44,"t":-10.11},{"k":6,"h":"b","x":-9.01,"t":-9.33},{"k":6,"h":"b","x":-8.04,"t":-8.5},{"k":6,"h":"b","x":-6.59,"t":-7.73},{"k":6,"h":"b","x":-5.14,"t":-7.2},{"k":6,"h":"b","x":-3.2,"t":-6.61},{"k":6,"h":"b","x":-0.05,"t":-5.78},{"k":6,"h":"b","x":0.79,"t":-5.72},{"k":6,"h":"b","x":1.64,"t":-6.07},{"k":6,"h":"b","x":1.88,"t":-6.61},{"k":6,"h":"b","x":1.52,"t":-7.44},{"k":6,"h":"b","x":0.43,"t":-8.5},{"k":6,"h":"b","x":-1.02,"t":-9.45},{"k":6,"h":"b","x":-2.47,"t":-9.99},{"k":6,"h":"b","x":-4.89,"t":-10.7},{"k":6,"h":"b","x":-6.83,"t":-10.99},
{"k":8,"h":"b","x":-6.76,"t":-15.22},{"k":8,"h":"b","x":-3.61,"t":-14.39},{"k":8,"h":"b","x":-2.77,"t":-14.33},{"k":8,"h":"b","x":-1.92,"t":-14.68},{"k":8,"h":"b","x":-1.68,"t":-15.22},{"k":8,"h":"b","x":-2.04,"t":-16.05},{"k":8,"h":"b","x":-3.13,"t":-17.1},{"k":8,"h":"b","x":-7,"t":-17.2},
{"k":1,"h":"p","x":0.95,"t":10.54},{"k":1,"h":"p","x":0.22,"t":10.69},{"k":1,"h":"p","x":-0.14,"t":11.04},{"k":1,"h":"p","x":-0.14,"t":11.63},{"k":1,"h":"p","x":0.7,"t":12.82},{"k":1,"h":"p","x":1.91,"t":13.53},{"k":1,"h":"p","x":3.12,"t":14.12},{"k":1,"h":"p","x":4.82,"t":14.78},{"k":1,"h":"p","x":7,"t":15.31},{"k":1,"h":"p","x":8.93,"t":15.72},{"k":1,"h":"p","x":9.66,"t":15.72},{"k":1,"h":"p","x":10.38,"t":15.43},{"k":1,"h":"p","x":10.62,"t":14.95},{"k":1,"h":"p","x":10.26,"t":14.12},{"k":1,"h":"p","x":9.17,"t":13.18},{"k":1,"h":"p","x":8.21,"t":12.29},{"k":1,"h":"p","x":7.24,"t":11.63},{"k":1,"h":"p","x":5.79,"t":11.22},{"k":1,"h":"p","x":3.37,"t":10.75},
{"k":3,"h":"p","x":-2.61,"t":1.93},{"k":3,"h":"p","x":-3.34,"t":2.08},{"k":3,"h":"p","x":-3.7,"t":2.43},{"k":3,"h":"p","x":-3.7,"t":3.02},{"k":3,"h":"p","x":-2.86,"t":4.21},{"k":3,"h":"p","x":-1.65,"t":4.92},{"k":3,"h":"p","x":-0.44,"t":5.51},{"k":3,"h":"p","x":1.26,"t":6.17},{"k":3,"h":"p","x":3.44,"t":6.7},{"k":3,"h":"p","x":5.37,"t":7.11},{"k":3,"h":"p","x":6.1,"t":7.11},{"k":3,"h":"p","x":6.82,"t":6.82},{"k":3,"h":"p","x":7.06,"t":6.34},{"k":3,"h":"p","x":6.7,"t":5.51},{"k":3,"h":"p","x":5.61,"t":4.57},{"k":3,"h":"p","x":4.65,"t":3.68},{"k":3,"h":"p","x":3.68,"t":3.02},{"k":3,"h":"p","x":2.23,"t":2.61},{"k":3,"h":"p","x":-0.19,"t":2.14},
{"k":5,"h":"p","x":-6.17,"t":-6.68},{"k":5,"h":"p","x":-6.9,"t":-6.53},{"k":5,"h":"p","x":-7.26,"t":-6.18},{"k":5,"h":"p","x":-7.26,"t":-5.59},{"k":5,"h":"p","x":-6.42,"t":-4.4},{"k":5,"h":"p","x":-5.21,"t":-3.69},{"k":5,"h":"p","x":-4,"t":-3.1},{"k":5,"h":"p","x":-2.3,"t":-2.44},{"k":5,"h":"p","x":-0.12,"t":-1.91},{"k":5,"h":"p","x":1.81,"t":-1.5},{"k":5,"h":"p","x":2.54,"t":-1.5},{"k":5,"h":"p","x":3.26,"t":-1.79},{"k":5,"h":"p","x":3.5,"t":-2.27},{"k":5,"h":"p","x":3.14,"t":-3.1},{"k":5,"h":"p","x":2.05,"t":-4.04},{"k":5,"h":"p","x":1.09,"t":-4.93},{"k":5,"h":"p","x":0.12,"t":-5.59},{"k":5,"h":"p","x":-1.33,"t":-6},{"k":5,"h":"p","x":-3.75,"t":-6.47},
{"k":7,"h":"p","x":-9.73,"t":-15.29},{"k":7,"h":"p","x":-10.46,"t":-15.14},{"k":7,"h":"p","x":-10.82,"t":-14.79},{"k":7,"h":"p","x":-10.82,"t":-14.2},{"k":7,"h":"p","x":-9.98,"t":-13.01},{"k":7,"h":"p","x":-8.77,"t":-12.3},{"k":7,"h":"p","x":-7.56,"t":-11.71},{"k":7,"h":"p","x":-5.86,"t":-11.05},{"k":7,"h":"p","x":-3.68,"t":-10.52},{"k":7,"h":"p","x":-1.75,"t":-10.11},{"k":7,"h":"p","x":-1.02,"t":-10.11},{"k":7,"h":"p","x":-0.3,"t":-10.4},{"k":7,"h":"p","x":-0.06,"t":-10.88},{"k":7,"h":"p","x":-0.42,"t":-11.71},{"k":7,"h":"p","x":-1.51,"t":-12.65},{"k":7,"h":"p","x":-2.47,"t":-13.54},{"k":7,"h":"p","x":-3.44,"t":-14.2},{"k":7,"h":"p","x":-4.89,"t":-14.61},{"k":7,"h":"p","x":-7.31,"t":-15.08}]
},
"hconcat":[
{"width":2416,"height":1345,
"encoding":{"x":{"field":"u","type":"quantitative","scale":{"domain":[0,2416],"nice":false,"zero":false},"axis":null},"y":{"field":"v","type":"quantitative","scale":{"domain":[1440,95],"nice":false,"zero":false},"axis":null}},
"layer":[
{"data":{"name":"surface"},"mark":{"type":"line","order":false,"interpolate":"linear-closed","fill":"#38c8a0","stroke":"#38c8a0","strokeWidth":1}},
{"data":{"name":"blobs"},"transform":[{"filter":{"field":"b","equal":"glow"}}],"mark":{"type":"rect","fill":{"gradient":"radial","stops":[{"offset":0,"color":"rgba(72,232,172,0.75)"},{"offset":0.5,"color":"rgba(72,232,172,0.45)"},{"offset":1,"color":"rgba(72,232,172,0)"}]}},"encoding":{"x2":{"field":"u2"},"y2":{"field":"v2"}}},
{"data":{"name":"blobs"},"transform":[{"filter":{"field":"b","equal":"teal"}}],"mark":{"type":"rect","fill":{"gradient":"radial","stops":[{"offset":0,"color":"rgba(30,150,160,0.7)"},{"offset":0.5,"color":"rgba(30,150,160,0.4)"},{"offset":1,"color":"rgba(30,150,160,0)"}]}},"encoding":{"x2":{"field":"u2"},"y2":{"field":"v2"}}},
{"data":{"name":"blobs"},"transform":[{"filter":{"field":"b","equal":"smudge"}}],"mark":{"type":"rect","fill":{"gradient":"radial","stops":[{"offset":0,"color":"rgba(50,125,95,0.6)"},{"offset":0.5,"color":"rgba(50,125,95,0.32)"},{"offset":1,"color":"rgba(50,125,95,0)"}]}},"encoding":{"x2":{"field":"u2"},"y2":{"field":"v2"}}},
{"data":{"name":"blobs"},"transform":[{"filter":{"field":"b","equal":"blue"}}],"mark":{"type":"rect","fill":{"gradient":"radial","stops":[{"offset":0,"color":"rgba(24,80,150,0.95)"},{"offset":0.5,"color":"rgba(26,105,150,0.55)"},{"offset":1,"color":"rgba(30,150,160,0)"}]}},"encoding":{"x2":{"field":"u2"},"y2":{"field":"v2"}}},
{"data":{"name":"blobs"},"transform":[{"filter":{"field":"b","equal":"dark"}}],"mark":{"type":"rect","fill":{"gradient":"radial","stops":[{"offset":0,"color":"rgba(26,76,84,0.85)"},{"offset":0.5,"color":"rgba(26,96,98,0.5)"},{"offset":1,"color":"rgba(26,120,118,0)"}]}},"encoding":{"x2":{"field":"u2"},"y2":{"field":"v2"}}},
{"data":{"name":"blobs"},"transform":[{"filter":{"field":"b","equal":"indigo"}}],"mark":{"type":"rect","fill":{"gradient":"radial","stops":[{"offset":0,"color":"rgba(36,22,130,1)"},{"offset":0.6,"color":"rgba(30,30,120,0.7)"},{"offset":1,"color":"rgba(24,60,120,0)"}]}},"encoding":{"x2":{"field":"u2"},"y2":{"field":"v2"}}},
{"data":{"name":"outside"},"mark":{"type":"line","order":false,"interpolate":"linear-closed","fill":"white","stroke":"white","strokeWidth":0.5},"encoding":{"detail":{"field":"k"}}},
{"data":{"name":"lip"},"mark":{"type":"line","order":false,"interpolate":"linear-closed","strokeWidth":0.5,"stroke":"#14405a","fill":{"gradient":"linear","x1":0.9,"y1":0,"x2":0.3,"y2":1,"stops":[{"offset":0,"color":"#2f9e98"},{"offset":0.6,"color":"#17586c"},{"offset":1,"color":"#0c2c4c"}]}}},
{"data":{"name":"surface"},"mark":{"type":"line","order":false,"interpolate":"linear-closed","stroke":"black","strokeWidth":2.2}},
{"data":{"name":"cones"},"mark":{"type":"line","order":false,"interpolate":"linear-closed","strokeWidth":0,"stroke":"transparent","fill":{"gradient":"radial","x1":0.33,"y1":0.2,"x2":0.33,"y2":0.2,"r1":0,"r2":0.33,"stops":[{"offset":0,"color":"#fdfe70"},{"offset":0.28,"color":"#f4fa70"},{"offset":0.48,"color":"#b0ec78"},{"offset":0.72,"color":"rgba(110,226,130,0.8)"},{"offset":1,"color":"rgba(72,232,172,0)"}]}},"encoding":{"detail":{"field":"k"}}},
{"data":{"name":"blobs"},"transform":[{"filter":{"field":"b","equal":"lime"}}],"mark":{"type":"rect","fill":{"gradient":"radial","stops":[{"offset":0,"color":"rgba(190,240,120,0.8)"},{"offset":0.5,"color":"rgba(170,236,120,0.45)"},{"offset":1,"color":"rgba(130,228,130,0)"}]}},"encoding":{"x2":{"field":"u2"},"y2":{"field":"v2"}}},
{"data":{"name":"blobs"},"transform":[{"filter":{"field":"b","equal":"olive"}}],"mark":{"type":"rect","fill":{"gradient":"radial","stops":[{"offset":0,"color":"rgba(70,95,55,0.55)"},{"offset":1,"color":"rgba(70,95,55,0)"}]}},"encoding":{"x2":{"field":"u2"},"y2":{"field":"v2"}}},
{"data":{"name":"tips"},"mark":{"type":"line","order":false,"interpolate":"linear-closed","fill":"#c9c25e","stroke":"#c9c25e","strokeWidth":0.5,"opacity":0.8},"encoding":{"detail":{"field":"k"}}},
{"data":{"name":"flanks"},"mark":{"type":"line","order":false,"stroke":"#566c38","strokeWidth":14,"opacity":0.22,"strokeCap":"round"},"encoding":{"detail":{"field":"k"}}},
{"data":{"name":"flanks"},"mark":{"type":"line","order":false,"stroke":"#566c38","strokeWidth":6,"opacity":0.3,"strokeCap":"round"},"encoding":{"detail":{"field":"k"}}},
{"data":{"name":"rules"},"mark":{"type":"rule","color":"black","strokeWidth":1.5},"encoding":{"x2":{"field":"u2"},"y2":{"field":"v2"}}},
{"data":{"name":"labels"},"mark":{"type":"text","font":"Liberation Serif","fontSize":42,"align":"center","baseline":"middle","color":"black"},"encoding":{"text":{"field":"s","type":"nominal"}}}
]},
{"width":1214,"height":1213,
"title":{"text":"Imψ₃(x,t)","font":"Liberation Serif","fontSize":32,"fontWeight":"normal","offset":32,"color":"black","dx":63},
"encoding":{"x":{"field":"x","type":"quantitative","scale":{"domain":[-17.61,17.7],"nice":false,"zero":false},"axis":null},"y":{"field":"t","type":"quantitative","scale":{"domain":[-15.66,15.63],"nice":false,"zero":false},"axis":null}},
"resolve":{"axis":{"x":"independent","y":"independent"}},
"layer":[
{"data":{"name":"ground"},"mark":{"type":"rect","fill":"#a8ace8"},
"encoding":{"x":{"field":"x","type":"quantitative","scale":{"domain":[-17.61,17.7],"nice":false,"zero":false},"axis":{"orient":"bottom","zindex":1,"title":"x","titleFont":"Liberation Serif","titleFontSize":36,"titleFontWeight":"normal","titleColor":"black","titlePadding":26,"domainColor":"black","domainWidth":2.5,"tickColor":"black","tickWidth":1.5,"tickSize":{"condition":{"test":"abs(datum.value)%5===0","value":-12},"value":-7},"values":[-17,-16,-15,-14,-13,-12,-11,-10,-9,-8,-7,-6,-5,-4,-3,-2,-1,0,1,2,3,4,5,6,7,8,9,10,11,12,13,14,15,16,17],"format":"d","labelExpr":"abs(datum.value)%5===0 ? datum.label : ''","labelFont":"Liberation Serif","labelFontSize":31,"labelColor":"black","labelPadding":16,"labelOverlap":false,"labelFlush":false,"grid":false}},
"x2":{"field":"x2"},
"y":{"field":"t","type":"quantitative","scale":{"domain":[-15.66,15.63],"nice":false,"zero":false},"axis":{"orient":"left","zindex":1,"title":"t","titleFont":"Liberation Serif","titleFontSize":36,"titleFontWeight":"normal","titleColor":"black","titlePadding":26,"domainColor":"black","domainWidth":2.5,"tickColor":"black","tickWidth":1.5,"tickSize":{"condition":{"test":"abs(datum.value)%5===0","value":-22},"value":-11},"values":[-15,-14,-13,-12,-11,-10,-9,-8,-7,-6,-5,-4,-3,-2,-1,0,1,2,3,4,5,6,7,8,9,10,11,12,13,14,15],"format":"d","labelExpr":"abs(datum.value)%5===0 ? datum.label : ''","labelFont":"Liberation Serif","labelFontSize":31,"labelColor":"black","labelPadding":16,"labelOverlap":false,"labelFlush":false,"grid":false}},
"y2":{"field":"t2"}}},
{"data":{"name":"stripes"},"mark":{"type":"line","order":false,"interpolate":"linear-closed","fill":"#b8c6e8","stroke":"#b8c6e8","strokeWidth":0.5},"encoding":{"detail":{"field":"k"}}},
{"data":{"name":"edges"},"mark":{"type":"line","order":false,"stroke":"#76889e","strokeWidth":2},"encoding":{"detail":{"field":"k"}}},
{"data":{"name":"lobes"},"mark":{"type":"line","order":false,"clip":true,"interpolate":"cardinal-closed","tension":0.4,"stroke":"#5f6a82","strokeWidth":1.2},"encoding":{"detail":{"field":"k"},"fill":{"field":"l","type":"nominal","legend":null,"scale":{"domain":["p1","p2","p3","p4","b1","b2","b3"],"range":["#9490e4","#8878d8","#7058c0","#4a1a8c","#c5d8e4","#d6dde0","#e6e6e0"]}}}},
{"data":{"name":"holes"},"mark":{"type":"line","order":false,"clip":true,"interpolate":"cardinal-closed","tension":0.4,"fill":"white","strokeWidth":1.6},"encoding":{"detail":{"field":"k"},"stroke":{"field":"h","type":"nominal","legend":null,"scale":{"domain":["p","b"],"range":["#4a1a8c","#e0d0a8"]}}}},
{"data":{"name":"necks"},"mark":{"type":"line","order":false,"clip":true,"stroke":"#2a2a3a","strokeWidth":2.4,"opacity":0.85},"encoding":{"detail":{"field":"k"}}},
{"data":{"name":"masks"},"mark":{"type":"rect","fill":"white"},
"encoding":{"x":{"field":"x","type":"quantitative","scale":{"domain":[-17.61,17.7],"nice":false,"zero":false},"axis":{"orient":"top","zindex":1,"title":null,"labels":false,"domainColor":"black","domainWidth":2.5,"tickColor":"black","tickWidth":1.5,"tickSize":{"condition":{"test":"abs(datum.value)%5===0","value":-12},"value":-7},"values":[-17,-16,-15,-14,-13,-12,-11,-10,-9,-8,-7,-6,-5,-4,-3,-2,-1,0,1,2,3,4,5,6,7,8,9,10,11,12,13,14,15,16,17],"grid":false}},
"x2":{"field":"x2"},
"y":{"field":"t","type":"quantitative","scale":{"domain":[-15.66,15.63],"nice":false,"zero":false},"axis":{"orient":"right","zindex":1,"title":null,"labels":false,"domainColor":"black","domainWidth":2.5,"tickColor":"black","tickWidth":1.5,"tickSize":{"condition":{"test":"abs(datum.value)%5===0","value":-22},"value":-11},"values":[-15,-14,-13,-12,-11,-10,-9,-8,-7,-6,-5,-4,-3,-2,-1,0,1,2,3,4,5,6,7,8,9,10,11,12,13,14,15],"grid":false}},
"y2":{"field":"t2"}}}
]}
]}
